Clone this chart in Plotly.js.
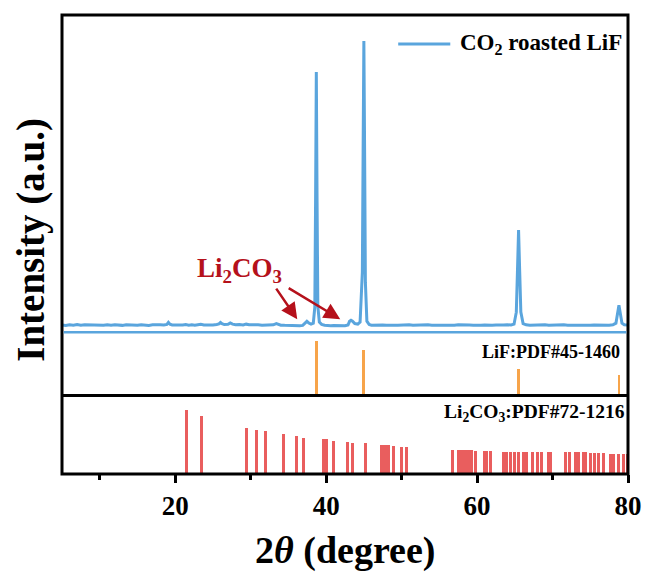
<!DOCTYPE html>
<html>
<head>
<meta charset="utf-8">
<script src="https://cdn.plot.ly/plotly-3.0.1.min.js"></script>
<style>html,body{margin:0;padding:0;background:#fff;}#chart{width:648px;height:579px;}</style>
</head>
<body>
<div id="chart"></div>
<script>
// ---- measured XRD pattern (2theta, counts) ----
const xrdTheta = [5.0,5.5,6.0,6.5,7.0,7.5,8.0,8.5,9.0,9.5,10.0,10.5,11.0,11.5,12.0,12.5,13.0,13.5,14.0,14.5,15.0,15.5,16.0,16.5,17.0,17.5,18.0,18.5,18.9,19.1,19.3,19.6,20.0,20.5,21.0,21.4,21.8,22.2,22.6,23.0,23.4,23.8,24.2,24.6,25.0,25.5,25.8,26.0,26.2,26.5,27.0,27.3,27.6,28.0,28.5,29.0,29.4,29.8,30.2,30.6,31.0,31.5,32.0,32.5,33.0,33.4,33.7,34.0,34.5,35.0,35.5,36.0,36.5,36.9,37.2,37.45,37.7,38.0,38.3,38.5,38.6,38.7,38.8,38.9,39.1,39.4,39.8,40.2,40.6,41.0,41.5,42.0,42.5,42.9,43.1,43.3,43.5,43.8,44.2,44.5,44.8,44.9,45.0,45.1,45.2,45.4,45.7,46.0,46.5,47.0,47.5,48.0,48.5,49.0,49.5,50.0,50.5,51.0,51.5,52.0,52.5,53.0,53.5,54.0,54.5,55.0,55.5,56.0,56.5,57.0,57.5,58.0,58.5,59.0,59.5,60.0,60.5,61.0,61.5,62.0,62.5,63.0,63.5,64.0,64.5,64.9,65.2,65.35,65.5,65.65,65.8,66.1,66.5,67.0,67.5,68.0,68.5,69.0,69.5,70.0,70.5,71.0,71.5,72.0,72.5,73.0,73.5,74.0,74.5,75.0,75.5,76.0,76.5,77.0,77.5,78.0,78.4,78.6,78.8,79.0,79.2,79.5,80.0];
const xrdCounts = [72,68,74,70,76,69,73,71,75,68,72,70,74,69,73,71,68,74,70,72,69,75,71,68,73,70,74,72,78,98,80,72,70,74,71,76,70,73,69,74,78,72,70,75,72,76,82,96,84,76,78,92,80,74,77,72,80,74,76,71,74,70,72,68,74,86,74,70,68,66,65,66,64,68,86,108,92,80,90,250,1300,2600,1300,260,100,78,70,66,64,66,63,62,64,72,108,118,110,86,80,100,600,1800,2910,1800,500,110,76,70,72,68,71,69,73,70,68,72,70,74,69,71,68,72,74,70,69,73,71,70,72,69,74,71,68,72,70,73,69,71,74,70,72,69,71,74,72,80,200,600,1020,600,200,85,73,70,72,69,71,74,70,72,68,71,73,70,69,72,70,73,71,69,72,70,73,71,70,74,90,180,270,180,90,74,72];

// ---- LiF reference (PDF#45-1460) ----
const lifTheta = [38.7, 45.0, 65.5, 78.8];
const lifInt   = [100, 83, 49, 38];

// ---- Li2CO3 reference (PDF#72-1216) ----
const li2co3Theta = [21.45,23.5,29.5,30.8,31.9,34.3,36.1,37.05,39.6,40.0,41.0,42.8,43.5,45.2,47.4,47.8,48.2,48.9,50.05,50.6,56.7,57.5,57.8,58.1,58.5,58.9,59.3,59.8,61.0,61.3,61.8,63.5,63.9,64.4,64.9,65.5,66.2,66.6,67.4,67.95,68.6,69.4,69.7,71.7,72.2,73.0,73.5,74.05,74.4,75.0,75.6,76.1,76.7,77.7,78.1,78.8,79.4,79.9];
const li2co3Int   = [100,91,72,69,67,63,59,57,54,54,52,50,49,48,45,45,45,44,43,43,38,37,37,37,37,37,37,36,36,36,36,35,35,35,35,35,35,35,35,35,35,34,34,34,34,34,34,34,34,33,33,33,33,32,32,32,32,32];

// ---- text ----
const seriesName = 'CO<sub>2</sub> roasted LiF';
const lifLabel = 'LiF:PDF#45-1460';
const li2co3Label = 'Li<sub>2</sub>CO<sub>3</sub>:PDF#72-1216';
const impurityLabel = 'Li<sub>2</sub>CO<sub>3</sub>';
const xTitle = '2<i>θ</i> (degree)';
const yTitle = 'Intensity (a.u.)';
const xTickVals = [20, 40, 60, 80];

const BLUE = '#5aa5dd', ORANGE = '#f7a44a', RED = '#e95e5e', DARKRED = '#b5111b';
const FONT = 'Liberation Serif, Times New Roman, serif';

const traces = [
  {x: xrdTheta, y: xrdCounts, type: 'scatter', mode: 'lines', name: seriesName,
   line: {color: BLUE, width: 3}, xaxis: 'x', yaxis: 'y', showlegend: false, hoverinfo: 'skip'},
  {x: lifTheta, y: lifInt, type: 'bar', width: 0.38, marker: {color: ORANGE, line: {width: 0}},
   xaxis: 'x2', yaxis: 'y2', showlegend: false},
  {x: li2co3Theta, y: li2co3Int, type: 'bar', width: 0.4, marker: {color: RED, line: {width: 0}},
   xaxis: 'x3', yaxis: 'y3', showlegend: false}
];

const hiddenX = {range: [5, 80], showticklabels: false, ticks: '', showline: false, showgrid: false, zeroline: false, fixedrange: true};
const hiddenY = {showticklabels: false, ticks: '', showline: false, showgrid: false, zeroline: false};

const layout = {
  width: 648, height: 579,
  margin: {l: 62, r: 20, t: 15, b: 105},
  paper_bgcolor: '#fff', plot_bgcolor: '#fff',
  font: {family: FONT, color: '#000'},
  bargap: 0,
  xaxis: Object.assign({}, hiddenX, {anchor: 'y'}),
  xaxis2: Object.assign({}, hiddenX, {anchor: 'y2'}),
  xaxis3: {range: [5, 80], anchor: 'y3', tickvals: xTickVals, ticks: 'outside', ticklen: 8, tickwidth: 3, tickcolor: '#000',
           minor: {tick0: 0, dtick: 10, ticks: 'outside', ticklen: 5, tickwidth: 2.5, tickcolor: '#000'},
           showline: false, showgrid: false, zeroline: false,
           tickfont: {family: FONT, size: 27, weight: 'bold', color: '#000'}},
  yaxis: Object.assign({}, hiddenY, {domain: [0.309, 1], range: [0, 3170], anchor: 'x'}),
  yaxis2: Object.assign({}, hiddenY, {domain: [0.172, 0.309], range: [0, 117], anchor: 'x2'}),
  yaxis3: Object.assign({}, hiddenY, {domain: [0, 0.170], range: [0, 122], anchor: 'x3'}),
  shapes: [
    {type: 'rect', xref: 'paper', yref: 'paper', x0: 0, x1: 1, y0: 0, y1: 1, line: {color: '#000', width: 3}},
    {type: 'line', xref: 'paper', yref: 'paper', x0: 0, x1: 1, y0: 0.171, y1: 0.171, line: {color: '#000', width: 3}},
    {type: 'line', xref: 'paper', yref: 'paper', x0: 0.003, x1: 0.997, y0: 0.309, y1: 0.309, line: {color: BLUE, width: 2.5}},
    {type: 'line', xref: 'paper', yref: 'paper', x0: 0.594, x1: 0.686, y0: 0.937, y1: 0.937, line: {color: BLUE, width: 3}}
  ],
  annotations: [
    {xref: 'paper', yref: 'paper', x: 0.699, y: 0.937, xanchor: 'left', yanchor: 'middle', showarrow: false,
     text: seriesName, font: {family: FONT, size: 23, weight: 'bold', color: '#000'}},
    {xref: 'paper', yref: 'paper', x: 0.99, y: 0.266, xanchor: 'right', yanchor: 'middle', showarrow: false,
     text: lifLabel, font: {family: FONT, size: 18, weight: 'bold', color: '#000'}},
    {xref: 'paper', yref: 'paper', x: 0.998, y: 0.133, xanchor: 'right', yanchor: 'middle', showarrow: false,
     text: li2co3Label, font: {family: FONT, size: 19.5, weight: 'bold', color: '#000'}},
    {xref: 'x', yref: 'y', x: 28.5, y: 620, xanchor: 'center', yanchor: 'middle', showarrow: false,
     text: impurityLabel, font: {family: FONT, size: 27, weight: 'bold', color: DARKRED}},
    {xref: 'x', yref: 'y', x: 36.17, y: 130, axref: 'x', ayref: 'y', ax: 33.25, ay: 450, text: '',
     showarrow: true, arrowhead: 2, arrowsize: 1.3, arrowwidth: 2.5, arrowcolor: DARKRED, standoff: 0},
    {xref: 'x', yref: 'y', x: 41.87, y: 130, axref: 'x', ayref: 'y', ax: 34.84, ay: 450, text: '',
     showarrow: true, arrowhead: 2, arrowsize: 1.3, arrowwidth: 2.5, arrowcolor: DARKRED, standoff: 0},
    {xref: 'paper', yref: 'paper', x: 0.5, y: -0.166, xanchor: 'center', yanchor: 'middle', showarrow: false,
     text: xTitle, font: {family: FONT, size: 38, weight: 'bold', color: '#000'}},
    {xref: 'paper', yref: 'paper', x: -0.055, y: 0.51, xanchor: 'center', yanchor: 'middle', showarrow: false,
     textangle: -90, text: yTitle, font: {family: FONT, size: 39, weight: 'bold', color: '#000'}}
  ]
};

Plotly.newPlot('chart', traces, layout, {displayModeBar: false, staticPlot: true});
</script>
</body>
</html>
